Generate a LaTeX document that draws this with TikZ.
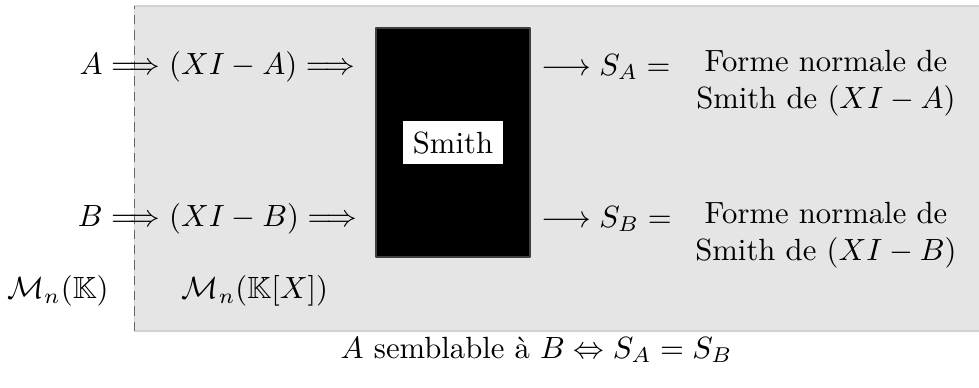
\documentclass[tikz,border=0pt]{standalone}
\usepackage{amsmath,amssymb}
\usetikzlibrary{positioning}

\begin{document}
\begin{tikzpicture}[line join=round, line cap=round]
    \useasboundingbox (0,0) rectangle (11.214,4.433);
    \draw[gray!35, fill=gray!20] (1.54,0.641) rectangle (11.3,4.364);
    \draw[black!60, densely dashed, semithick, line cap=butt] (1.54,0.641) -- (1.54,4.364);
    \node[fill=black, draw=black!75, minimum width=1.764cm, minimum height=2.623cm, inner sep=0pt] (boite) at (5.189,2.80) {};
    \node[fill=white] (smith) at (boite) {Smith};
    \node (ligneA) at (2.491,3.666) {$A \Longrightarrow (XI - A) \Longrightarrow$};
    \node (ligneB) at (2.491,1.924) {$B \Longrightarrow (XI - B) \Longrightarrow$};
    \node[right] (sA) at (boite.east |- ligneA) {$\longrightarrow S_A =$};
    \node[right] (sB) at (boite.east |- ligneB) {$\longrightarrow S_B =$};
    \node[align=center] (formeA) at (9.461,3.477) {Forme normale de\\Smith de $(XI - A)$};
    \node[align=center] (formeB) at (9.461,1.735) {Forme normale de\\Smith de $(XI - B)$};
    \node (mk) at (0.664,1.10) {$\mathcal{M}_n(\mathbb{K})$};
    \node (mkx) at (2.921,1.10) {$\mathcal{M}_n(\mathbb{K}[X])$};
    \node (concl) at (6.146,0.424) {$A$ semblable à $B \Leftrightarrow S_A = S_B$};
\end{tikzpicture}
\end{document}
